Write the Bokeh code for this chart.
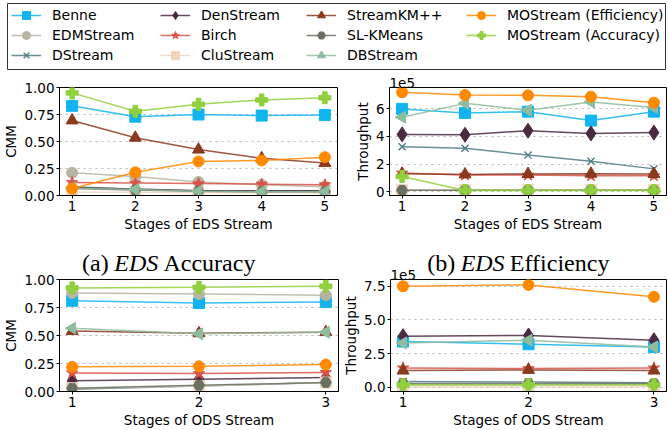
import numpy as np
from bokeh.plotting import figure
from bokeh.layouts import column, row
from bokeh.models import (FixedTicker, PrintfTickFormatter, Range1d, Legend,
                          LegendItem, ColumnDataSource)
from bokeh.core.properties import value
from bokeh.embed import file_html
from bokeh.resources import INLINE

# ---------------- data ----------------
methods = ["Benne", "EDMStream", "DStream", "DenStream", "Birch", "CluStream",
           "StreamKM++", "SL-KMeans", "DBStream", "MOStream (Efficiency)",
           "MOStream (Accuracy)"]

eds_stages = [1, 2, 3, 4, 5]
ods_stages = [1, 2, 3]

# (a) EDS accuracy (CMM)
eds_cmm_benne = [0.83, 0.73, 0.75, 0.74, 0.745]
eds_cmm_edmstream = [0.21, 0.175, 0.125, 0.10, 0.08]
eds_cmm_dstream = [0.08, 0.055, 0.045, 0.04, 0.04]
eds_cmm_denstream = [0.075, 0.06, 0.045, 0.045, 0.045]
eds_cmm_birch = [0.12, 0.115, 0.11, 0.105, 0.10]
eds_cmm_clustream = [0.03, 0.03, 0.025, 0.025, 0.025]
eds_cmm_streamkm = [0.695, 0.535, 0.425, 0.345, 0.30]
eds_cmm_slkmeans = [0.065, 0.05, 0.04, 0.035, 0.035]
eds_cmm_dbstream = [0.07, 0.055, 0.04, 0.035, 0.035]
eds_cmm_mo_eff = [0.065, 0.215, 0.315, 0.325, 0.355]
eds_cmm_mo_acc = [0.95, 0.78, 0.845, 0.885, 0.905]

# (b) EDS efficiency (throughput, x1e5)
eds_thr_benne = [6.0, 5.7, 5.8, 5.15, 5.8]
eds_thr_edmstream = [0.12, 0.1, 0.1, 0.1, 0.1]
eds_thr_dstream = [3.25, 3.15, 2.65, 2.2, 1.65]
eds_thr_denstream = [4.15, 4.12, 4.42, 4.22, 4.28]
eds_thr_birch = [1.35, 1.2, 1.2, 1.15, 1.15]
eds_thr_clustream = [0.1, 0.12, 0.12, 0.12, 0.12]
eds_thr_streamkm = [1.3, 1.25, 1.28, 1.3, 1.28]
eds_thr_slkmeans = [0.1, 0.1, 0.1, 0.1, 0.1]
eds_thr_dbstream = [5.4, 6.4, 5.9, 6.5, 6.1]
eds_thr_mo_eff = [7.2, 7.0, 6.98, 6.88, 6.45]
eds_thr_mo_acc = [1.1, 0.08, 0.08, 0.08, 0.08]

# (c) ODS accuracy (CMM)
ods_cmm_benne = [0.81, 0.79, 0.80]
ods_cmm_edmstream = [0.88, 0.87, 0.86]
ods_cmm_dstream = [0.02, 0.05, 0.08]
ods_cmm_denstream = [0.095, 0.11, 0.125]
ods_cmm_birch = [0.165, 0.16, 0.17]
ods_cmm_clustream = [0.03, 0.05, 0.08]
ods_cmm_streamkm = [0.54, 0.52, 0.53]
ods_cmm_slkmeans = [0.03, 0.055, 0.08]
ods_cmm_dbstream = [0.565, 0.515, 0.53]
ods_cmm_mo_eff = [0.22, 0.225, 0.24]
ods_cmm_mo_acc = [0.925, 0.93, 0.94]

# (d) ODS efficiency (throughput, x1e5)
ods_thr_benne = [3.4, 3.2, 3.0]
ods_thr_edmstream = [0.2, 0.2, 0.2]
ods_thr_dstream = [0.45, 0.4, 0.35]
ods_thr_denstream = [3.8, 3.85, 3.5]
ods_thr_birch = [1.45, 1.4, 1.45]
ods_thr_clustream = [0.05, 0.05, 0.05]
ods_thr_streamkm = [1.25, 1.3, 1.25]
ods_thr_slkmeans = [0.3, 0.3, 0.3]
ods_thr_dbstream = [3.3, 3.5, 3.0]
ods_thr_mo_eff = [7.5, 7.6, 6.72]
ods_thr_mo_acc = [0.2, 0.2, 0.2]

cmm_ticks = [0.0, 0.25, 0.5, 0.75, 1.0]
eds_thr_ticks = [0, 2, 4, 6]
ods_thr_ticks = [0.0, 2.5, 5.0, 7.5]

eds_cmm = [eds_cmm_benne, eds_cmm_edmstream, eds_cmm_dstream, eds_cmm_denstream,
           eds_cmm_birch, eds_cmm_clustream, eds_cmm_streamkm, eds_cmm_slkmeans,
           eds_cmm_dbstream, eds_cmm_mo_eff, eds_cmm_mo_acc]
eds_thr = [eds_thr_benne, eds_thr_edmstream, eds_thr_dstream, eds_thr_denstream,
           eds_thr_birch, eds_thr_clustream, eds_thr_streamkm, eds_thr_slkmeans,
           eds_thr_dbstream, eds_thr_mo_eff, eds_thr_mo_acc]
ods_cmm = [ods_cmm_benne, ods_cmm_edmstream, ods_cmm_dstream, ods_cmm_denstream,
           ods_cmm_birch, ods_cmm_clustream, ods_cmm_streamkm, ods_cmm_slkmeans,
           ods_cmm_dbstream, ods_cmm_mo_eff, ods_cmm_mo_acc]
ods_thr = [ods_thr_benne, ods_thr_edmstream, ods_thr_dstream, ods_thr_denstream,
           ods_thr_birch, ods_thr_clustream, ods_thr_streamkm, ods_thr_slkmeans,
           ods_thr_dbstream, ods_thr_mo_eff, ods_thr_mo_acc]

# ---------------- styles ----------------
colors = ["#12B4F0", "#B7B4A2", "#4F7D84", "#4A2A42", "#DB5247", "#F1D5BC",
          "#8B3A1E", "#6A7061", "#8EBC9F", "#FF8A00", "#8FD03C"]
markers = ["square", "circle", "x", "diamond", "star", "square",
           "triangle", "hex", "triangle", "circle", "plus"]
msizes = [11, 11, 10, 15, 12, 11, 12, 11, 12, 11, 12]
angles = [0, 0, 0, 0, 0, 0, 0, 0, np.pi / 2, 0, 0]

FONT = "DejaVu Sans"
TICK_FS = "13.5px"


def make_panel(xs, series, width, height, x_rng, y_rng, xticks, yticks, yfmt,
               xlabel, ylabel, left, right, top, title=None, transparent=False):
    p = figure(width=width, height=height, x_range=Range1d(*x_rng),
               y_range=Range1d(*y_rng), toolbar_location=None,
               output_backend="svg", min_border_left=left, min_border_right=right,
               min_border_top=top, min_border_bottom=0, title=title)
    for i, ys in enumerate(series):
        src = ColumnDataSource(dict(x=xs, y=ys))
        p.line("x", "y", source=src, color=colors[i], line_width=1.5, line_alpha=0.85)
        p.scatter("x", "y", source=src, marker=markers[i], size=msizes[i],
                  angle=angles[i], fill_color=colors[i], line_color=colors[i],
                  line_width=1.4 if markers[i] == "x" else 1)
    p.xaxis.ticker = FixedTicker(ticks=xticks)
    p.yaxis.ticker = FixedTicker(ticks=yticks)
    p.yaxis.formatter = PrintfTickFormatter(format=yfmt)
    for ax in p.axis:
        ax.major_tick_in = 0
        ax.major_tick_out = 3
        ax.minor_tick_in = 0
        ax.minor_tick_out = 0
        ax.major_label_standoff = 2
        ax.axis_label_standoff = 2
        ax.major_label_text_font = FONT
        ax.major_label_text_font_size = TICK_FS
        ax.major_label_text_color = "black"
        ax.axis_label_text_font = FONT
        ax.axis_label_text_font_size = TICK_FS
        ax.axis_label_text_font_style = "normal"
        ax.axis_label_text_color = "black"
        ax.axis_line_color = "black"
        ax.major_tick_line_color = "black"
    p.xaxis.axis_label = xlabel
    p.yaxis.axis_label = ylabel
    p.xgrid.visible = False
    p.ygrid.grid_line_color = "#b5b5b5"
    p.ygrid.grid_line_dash = "dotted"
    p.ygrid.grid_line_width = 1
    p.outline_line_color = "black"
    p.outline_line_alpha = 1
    p.background_fill_color = "white"
    if transparent:
        p.border_fill_alpha = 0
    if title is not None:
        p.title.align = "left"
        p.title.text_font = FONT
        p.title.text_font_size = TICK_FS
        p.title.text_font_style = "normal"
        p.title.text_color = "black"
        p.title.standoff = 0
    return p


p1 = make_panel(eds_stages, eds_cmm, 340, 164, (0.8, 5.2), (0, 1), eds_stages,
                cmm_ticks, "%.2f", "Stages of EDS Stream", "CMM", 57, 3, 17)
p2 = make_panel(eds_stages, eds_thr, 328, 164, (0.8, 5.2), (-0.28, 7.55), eds_stages,
                eds_thr_ticks, "%d", "Stages of EDS Stream", "Throughput", 49, 2, 17,
                title="1e5")
p3 = make_panel(ods_stages, ods_cmm, 340, 167, (0.9, 3.1), (0, 1), ods_stages,
                cmm_ticks, "%.2f", "Stages of ODS Stream", "CMM", 55, 2, 16,
                transparent=True)
p4 = make_panel(ods_stages, ods_thr, 328, 167, (0.9, 3.1), (-0.3, 8.0), ods_stages,
                ods_thr_ticks, "%.1f", "Stages of ODS Stream", "Throughput", 50, 2, 16,
                title="1e5", transparent=True)

# ---------------- legend figure ----------------
LEG_W, LEG_H = 668, 70
lf = figure(width=LEG_W, height=LEG_H, x_range=Range1d(0, 1), y_range=Range1d(0, 1),
            x_axis_type=None, y_axis_type=None, toolbar_location=None,
            output_backend="svg", min_border_left=7, min_border_right=3,
            min_border_top=3, min_border_bottom=1)
lf.grid.visible = False
lf.outline_line_color = "#333333"
lf.outline_line_width = 1
items = []
for i, name in enumerate(methods):
    # dummy point outside the visible range, only used for the legend glyph
    src = ColumnDataSource(dict(x=[5], y=[5]))
    lr = lf.line("x", "y", source=src, color=colors[i], line_width=1.5, line_alpha=0.85)
    sr = lf.scatter("x", "y", source=src, marker=markers[i], size=msizes[i],
                    angle=angles[i], fill_color=colors[i], line_color=colors[i],
                    line_width=1.4 if markers[i] == "x" else 1)
    items.append(LegendItem(label=name, renderers=[lr, sr]))

col_x = [4, 153, 299, 459]
for c in range(4):
    its = items[c * 3:(c + 1) * 3]
    vy = 4 + (3 - len(its)) * 20
    leg = Legend(items=its, location=(col_x[c], vy), orientation="vertical",
                 border_line_color=None, background_fill_alpha=0, padding=0,
                 spacing=0, margin=0, label_height=20, glyph_height=20,
                 glyph_width=30, label_standoff=11, label_text_font=FONT,
                 label_text_font_size="14px", label_text_color="black")
    lf.add_layout(leg)

# ---------------- caption strip (slightly overlapped by the lower row) --------
CAP_H = 45
OVERLAP = 16
cf = figure(width=668, height=CAP_H, x_range=Range1d(0, 668), y_range=Range1d(0, CAP_H),
            x_axis_type=None, y_axis_type=None, toolbar_location=None,
            output_backend="svg", min_border=0,
            styles={"margin-bottom": f"-{OVERLAP}px"})
cf.grid.visible = False
cf.outline_line_color = None
CFS = 24
serif = value("Liberation Serif")


def caption(cx, lead, tail, lead_em, tail_em):
    eds_em = 1.833
    sp = 0.25
    total = (lead_em + sp + eds_em + sp + tail_em) * CFS
    x0 = cx - total / 2
    y = 17
    parts = [(lead, "normal", x0),
             ("EDS", "italic", x0 + (lead_em + sp) * CFS),
             (tail, "normal", x0 + (lead_em + sp + eds_em + sp) * CFS)]
    for txt, style, xx in parts:
        cf.text(x=[xx], y=[y], text=[txt], text_font=serif,
                text_font_size=f"{CFS}px", text_font_style=style,
                text_baseline="middle", text_align="left", text_color="black")


caption(163, "(a)", "Accuracy", 1.11, 3.831)
caption(518, "(b)", "Efficiency", 1.166, 4.165)

layout = column(lf, row(p1, p2), cf, row(p3, p4), spacing=0)
open("out.html", "w").write(file_html(layout, INLINE))
